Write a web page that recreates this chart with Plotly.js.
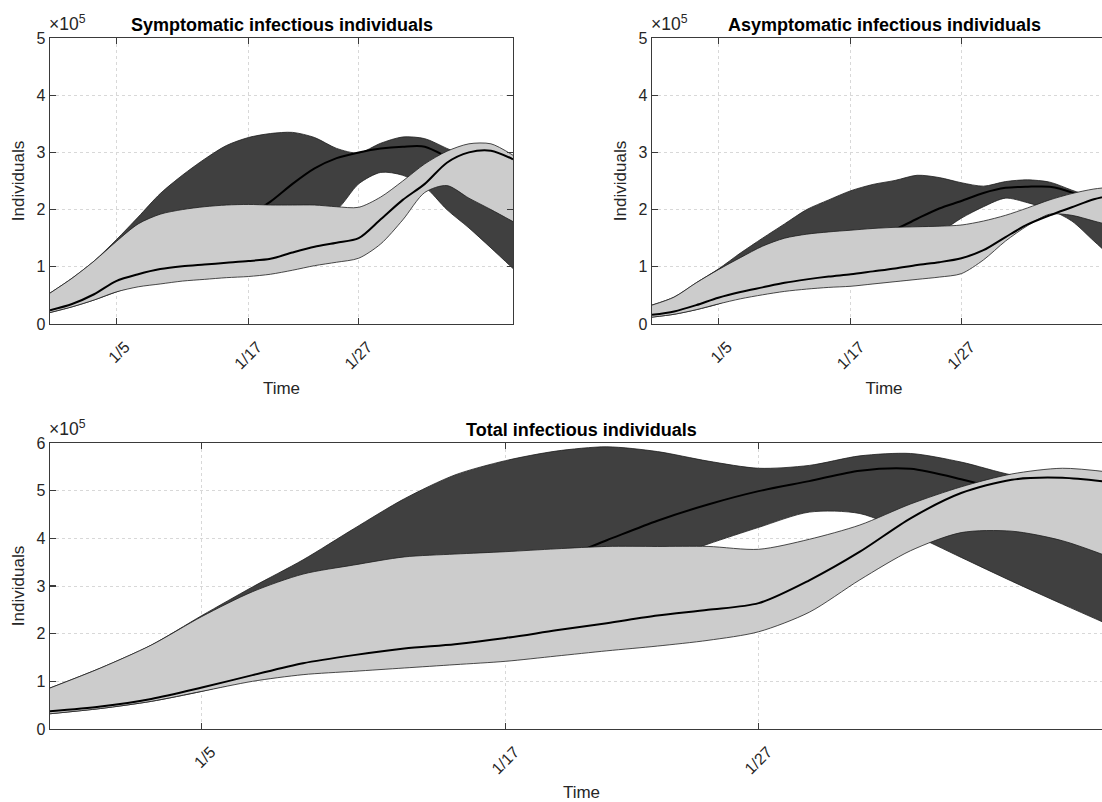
<!DOCTYPE html>
<html>
<head>
<meta charset="utf-8">
<script src="https://cdn.plot.ly/plotly-3.0.1.min.js"></script>
<style>
html, body { margin: 0; padding: 0; overflow: hidden; background: #ffffff; }
#chart { width: 1125px; height: 802px; }
</style>
</head>
<body>
<div id="chart"></div>
<script>
// ---- data (values in units of 10^5 individuals) ----
const dates = ['2019-12-30','2020-01-01','2020-01-03','2020-01-05','2020-01-07','2020-01-09','2020-01-11',
  '2020-01-13','2020-01-15','2020-01-17','2020-01-19','2020-01-21','2020-01-23','2020-01-25','2020-01-27',
  '2020-01-29','2020-01-31','2020-02-02','2020-02-04','2020-02-06','2020-02-08','2020-02-10'];
const xTickVals = ['2020-01-05','2020-01-17','2020-01-27'];
const xTickText = ['1/5','1/17','1/27'];

const titles = ['Symptomatic infectious individuals', 'Asymptomatic infectious individuals', 'Total infectious individuals'];

// Symptomatic
const symDarkLower = [0.2,0.3,0.42,0.56,0.7,0.85,1.0,1.15,1.3,1.45,1.6,1.75,1.88,2.0,2.45,2.65,2.6,2.4,2.0,1.68,1.33,0.97];
const symDarkMid   = [0.25,0.35,0.5,0.75,0.95,1.15,1.35,1.55,1.72,1.9,2.14,2.45,2.72,2.9,3.0,3.07,3.1,3.1,2.92,2.7,2.4,2.1];
const symDarkUpper = [0.54,0.8,1.1,1.47,1.87,2.28,2.6,2.88,3.12,3.26,3.33,3.35,3.26,3.07,2.99,3.16,3.27,3.24,3.07,2.9,2.6,2.3];
const symLightLower = [0.2,0.3,0.42,0.56,0.65,0.7,0.75,0.78,0.81,0.83,0.87,0.94,1.02,1.08,1.15,1.4,1.82,2.3,2.42,2.2,2.0,1.79];
const symLightMid   = [0.24,0.35,0.52,0.75,0.87,0.96,1.01,1.04,1.07,1.1,1.14,1.25,1.35,1.42,1.5,1.83,2.17,2.45,2.82,3.0,3.03,2.88];
const symLightUpper = [0.54,0.8,1.1,1.44,1.75,1.92,2.0,2.05,2.08,2.09,2.08,2.08,2.08,2.05,2.04,2.22,2.5,2.8,3.02,3.15,3.15,2.95];

// Asymptomatic
const asymDarkLower = [0.12,0.17,0.25,0.35,0.5,0.65,0.8,0.95,1.05,1.15,1.25,1.35,1.45,1.6,1.85,2.05,2.2,2.12,2.0,1.8,1.45,1.1];
const asymDarkMid   = [0.16,0.25,0.38,0.55,0.7,0.82,0.93,1.03,1.15,1.3,1.48,1.65,1.84,2.02,2.15,2.29,2.38,2.4,2.4,2.3,2.12,1.95];
const asymDarkUpper = [0.33,0.47,0.72,0.96,1.24,1.5,1.75,2.0,2.17,2.33,2.44,2.51,2.6,2.56,2.47,2.41,2.49,2.52,2.48,2.34,2.2,2.0];
const asymLightLower = [0.12,0.17,0.25,0.35,0.44,0.51,0.57,0.61,0.64,0.66,0.7,0.74,0.78,0.82,0.88,1.12,1.45,1.72,1.92,1.9,1.8,1.7];
const asymLightMid   = [0.16,0.22,0.33,0.46,0.56,0.64,0.72,0.78,0.83,0.87,0.92,0.97,1.03,1.08,1.15,1.29,1.52,1.74,1.9,2.04,2.18,2.27];
const asymLightUpper = [0.33,0.47,0.72,0.95,1.16,1.36,1.5,1.57,1.61,1.64,1.67,1.69,1.7,1.71,1.73,1.8,1.9,2.03,2.17,2.28,2.36,2.4];

// Total
const totDarkLower = [0.32,0.43,0.58,0.79,1.05,1.3,1.6,1.9,2.2,2.5,2.8,3.1,3.5,3.88,4.23,4.55,4.52,4.1,3.6,3.1,2.62,2.15];
const totDarkMid   = [0.45,0.6,0.8,1.1,1.5,1.9,2.3,2.65,3.0,3.3,3.55,3.96,4.37,4.71,4.99,5.2,5.42,5.46,5.24,4.95,4.6,4.3];
const totDarkUpper = [0.86,1.28,1.76,2.38,2.98,3.55,4.2,4.83,5.33,5.63,5.83,5.92,5.82,5.62,5.47,5.53,5.73,5.78,5.6,5.33,5.2,5.0];
const totLightLower = [0.32,0.43,0.58,0.79,1.0,1.14,1.21,1.28,1.35,1.42,1.53,1.64,1.74,1.86,2.04,2.45,3.13,3.74,4.12,4.15,3.95,3.58];
const totLightMid   = [0.37,0.47,0.63,0.87,1.13,1.38,1.55,1.69,1.78,1.91,2.07,2.22,2.38,2.5,2.64,3.12,3.72,4.42,4.95,5.23,5.27,5.17];
const totLightUpper = [0.86,1.28,1.76,2.36,2.88,3.25,3.44,3.61,3.67,3.72,3.78,3.83,3.83,3.83,3.77,3.98,4.28,4.72,5.08,5.35,5.47,5.38];

// ---- styling ----
const W = 1125, H = 802;
const FONT = 'Liberation Sans, Arial, Helvetica, sans-serif';
const DARK = '#404040', LIGHT = '#cccccc', EDGE = '#1e1e1e';
const AXC = '#3a3a3a', TXT = '#262626';
const px = v => v / W;
const py = v => 1 - v / H;

function band(xa, ya, lower, mid, upper, fillColor) {
  const common = { x: dates, xaxis: xa, yaxis: ya, mode: 'lines', hoverinfo: 'skip', showlegend: false };
  return [
    Object.assign({}, common, { y: lower, line: { color: EDGE, width: 0.8, shape: 'spline', smoothing: 0.8 } }),
    Object.assign({}, common, { y: upper, fill: 'tonexty', fillcolor: fillColor,
      line: { color: EDGE, width: 0.8, shape: 'spline', smoothing: 0.8 } }),
    Object.assign({}, common, { y: mid, line: { color: '#000000', width: 2, shape: 'spline', smoothing: 0.8 } })
  ];
}

const traces = [].concat(
  band('x', 'y', symDarkLower, symDarkMid, symDarkUpper, DARK),
  band('x', 'y', symLightLower, symLightMid, symLightUpper, LIGHT),
  band('x2', 'y2', asymDarkLower, asymDarkMid, asymDarkUpper, DARK),
  band('x2', 'y2', asymLightLower, asymLightMid, asymLightUpper, LIGHT),
  band('x3', 'y3', totDarkLower, totDarkMid, totDarkUpper, DARK),
  band('x3', 'y3', totLightLower, totLightMid, totLightUpper, LIGHT)
);

function xAxis(domain, anchor) {
  return {
    domain: domain, anchor: anchor, type: 'date',
    range: ['2019-12-30', '2020-02-10'],
    tickmode: 'array', tickvals: xTickVals, ticktext: xTickText, tickangle: -45,
    ticklabelshift: 9, ticklabelstandoff: 6,
    ticks: 'inside', ticklen: 6, tickwidth: 1.2, tickcolor: AXC,
    showline: true, linecolor: AXC, linewidth: 1.3, mirror: 'ticks',
    showgrid: true, gridcolor: '#d8d8d8', gridwidth: 1, griddash: 'dot', zeroline: false,
    tickfont: { family: FONT, size: 16, color: TXT },
    title: { text: 'Time', font: { family: FONT, size: 17, color: TXT }, standoff: 10 }
  };
}
function yAxis(domain, anchor, maxV) {
  return {
    domain: domain, anchor: anchor, range: [0, maxV], tick0: 0, dtick: 1,
    ticks: 'inside', ticklen: 6, tickwidth: 1.2, tickcolor: AXC,
    showline: true, linecolor: AXC, linewidth: 1.3, mirror: 'ticks',
    showgrid: true, gridcolor: '#d8d8d8', gridwidth: 1, griddash: 'dot', zeroline: false,
    tickfont: { family: FONT, size: 16, color: TXT },
    title: { text: 'Individuals', font: { family: FONT, size: 17, color: TXT }, standoff: 7 }
  };
}

const topY = [py(324), py(38)];
const botY = [py(729), py(443)];

function titleAnn(text, cx, cy) {
  return { text: '<b>' + text + '</b>', xref: 'paper', yref: 'paper', x: px(cx), y: py(cy),
    xanchor: 'center', yanchor: 'middle', showarrow: false,
    font: { family: FONT, size: 18, color: '#000000' } };
}
function expAnn(lx, by) {
  return { text: '\u00d710<sup>5</sup>', xref: 'paper', yref: 'paper', x: px(lx), y: py(by),
    xanchor: 'left', yanchor: 'bottom', showarrow: false,
    font: { family: FONT, size: 17.5, color: TXT } };
}

const layout = {
  width: W, height: H,
  margin: { l: 0, r: 0, t: 0, b: 0 },
  paper_bgcolor: '#ffffff', plot_bgcolor: '#ffffff',
  showlegend: false,
  xaxis: xAxis([px(50), px(513)], 'y'),
  yaxis: yAxis(topY, 'x', 5),
  xaxis2: xAxis([px(652), px(1116)], 'y2'),
  yaxis2: yAxis(topY, 'x2', 5),
  xaxis3: xAxis([px(50), px(1113)], 'y3'),
  yaxis3: yAxis(botY, 'x3', 6),
  annotations: [
    titleAnn(titles[0], 281.5, 25),
    titleAnn(titles[1], 884, 25),
    titleAnn(titles[2], 581.5, 430),
    expAnn(47, 36),
    expAnn(649, 36),
    expAnn(47, 441)
  ]
};

Plotly.newPlot('chart', traces, layout, { staticPlot: true, displayModeBar: false });
</script>
</body>
</html>
